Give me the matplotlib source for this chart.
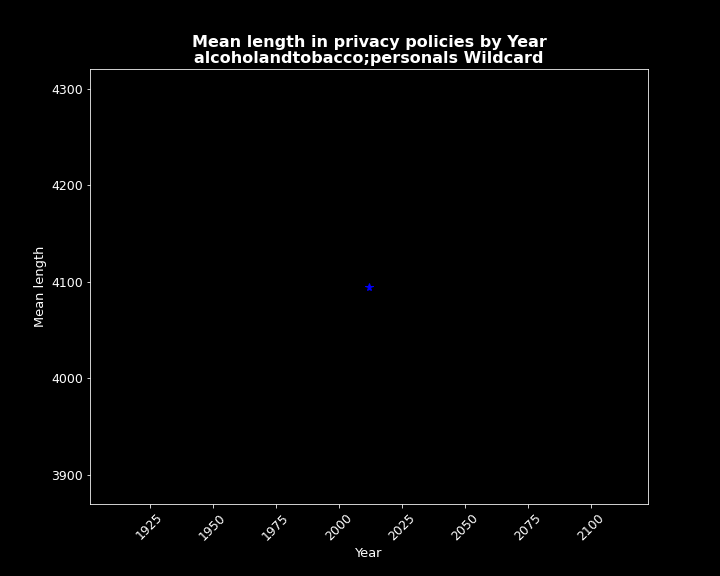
import matplotlib
matplotlib.use("Agg")
import matplotlib.pyplot as plt

years = [2012]
mean_length = [4095]

plt.style.use("dark_background")
fig, ax = plt.subplots(figsize=(10, 8), dpi=72)
fig.subplots_adjust(left=0.125, right=0.9, top=0.88, bottom=0.125)
ax.plot(years, mean_length, marker="*", color="blue", markersize=8, linestyle="-")
ax.set_title("Mean length in privacy policies by Year\nalcoholandtobacco;personals Wildcard",
             fontsize=16, fontweight="bold", linespacing=1.1)
ax.set_xlabel("Year", fontsize=13)
ax.set_ylabel("Mean length", fontsize=13)
ax.tick_params(labelsize=12.5)
plt.setp(ax.get_xticklabels(), rotation=45)
fig.savefig("out.png", dpi=72, facecolor="black")
